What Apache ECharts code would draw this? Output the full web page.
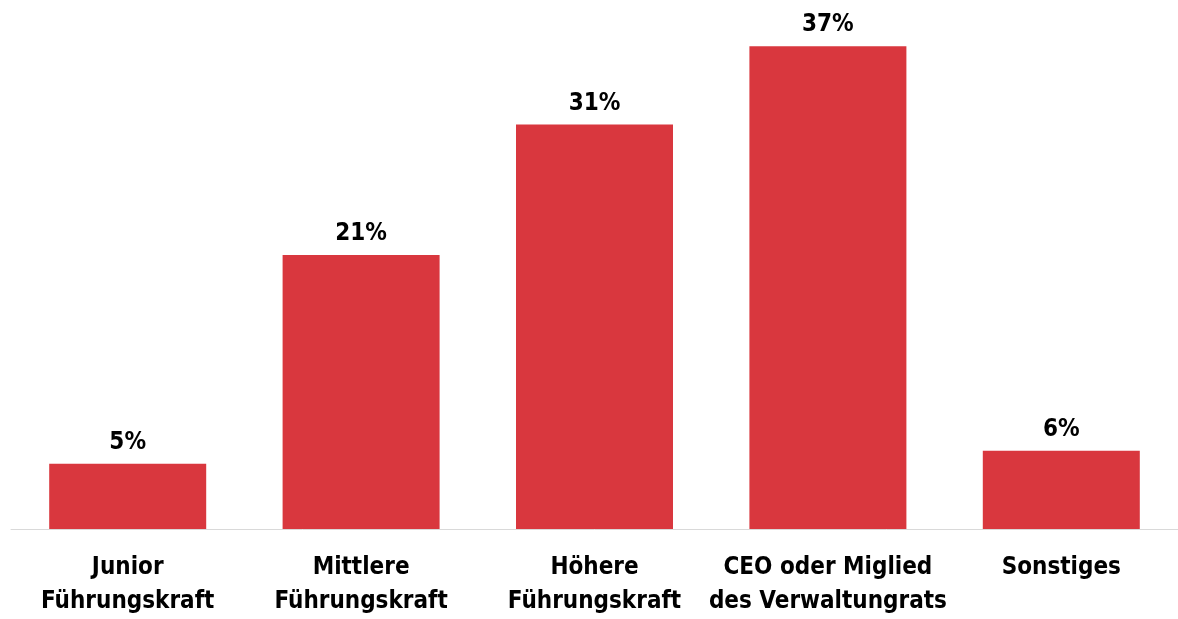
<!DOCTYPE html>
<html>
<head>
<meta charset="utf-8">
<script src="https://cdn.jsdelivr.net/npm/echarts@6/dist/echarts.min.js"></script>
<style>
  html, body { margin: 0; padding: 0; background: #ffffff; }
  #chart { width: 1178px; height: 619px; }
</style>
</head>
<body>
<div id="chart"></div>
<script>
// Führungsebene der Befragten (Anteil in %)
const categories = [
  'Junior\nFührungskraft',
  'Mittlere\nFührungskraft',
  'Höhere\nFührungskraft',
  'CEO oder Miglied\ndes Verwaltungrats',
  'Sonstiges'
];
const shares = [5, 21, 31, 37, 6];

const labelFont = "'Liberation Sans Narrow', 'DejaVu Sans Condensed', 'Arial Narrow', sans-serif";

const chart = echarts.init(document.getElementById('chart'));
chart.setOption({
  animation: false,
  backgroundColor: '#ffffff',
  grid: { left: 11, width: 1175, top: 7, height: 526, containLabel: false },
  xAxis: {
    type: 'category',
    data: categories,
    axisLine: { show: true, lineStyle: { color: '#d9d9d9', width: 1 } },
    axisTick: { show: false },
    axisLabel: {
      interval: 0,
      margin: 22,
      color: '#000000',
      fontFamily: labelFont,
      fontWeight: 'bold',
      fontSize: 24,
      lineHeight: 34
    }
  },
  yAxis: {
    type: 'value',
    min: 0,
    max: 40,
    show: false,
    splitLine: { show: false }
  },
  series: [{
    type: 'bar',
    data: shares,
    barWidth: 157,
    itemStyle: { color: '#d9373e' },
    label: {
      show: true,
      position: 'top',
      distance: 9,
      formatter: '{c}%',
      color: '#000000',
      fontFamily: labelFont,
      fontWeight: 'bold',
      fontSize: 24
    }
  }]
});
</script>
</body>
</html>
